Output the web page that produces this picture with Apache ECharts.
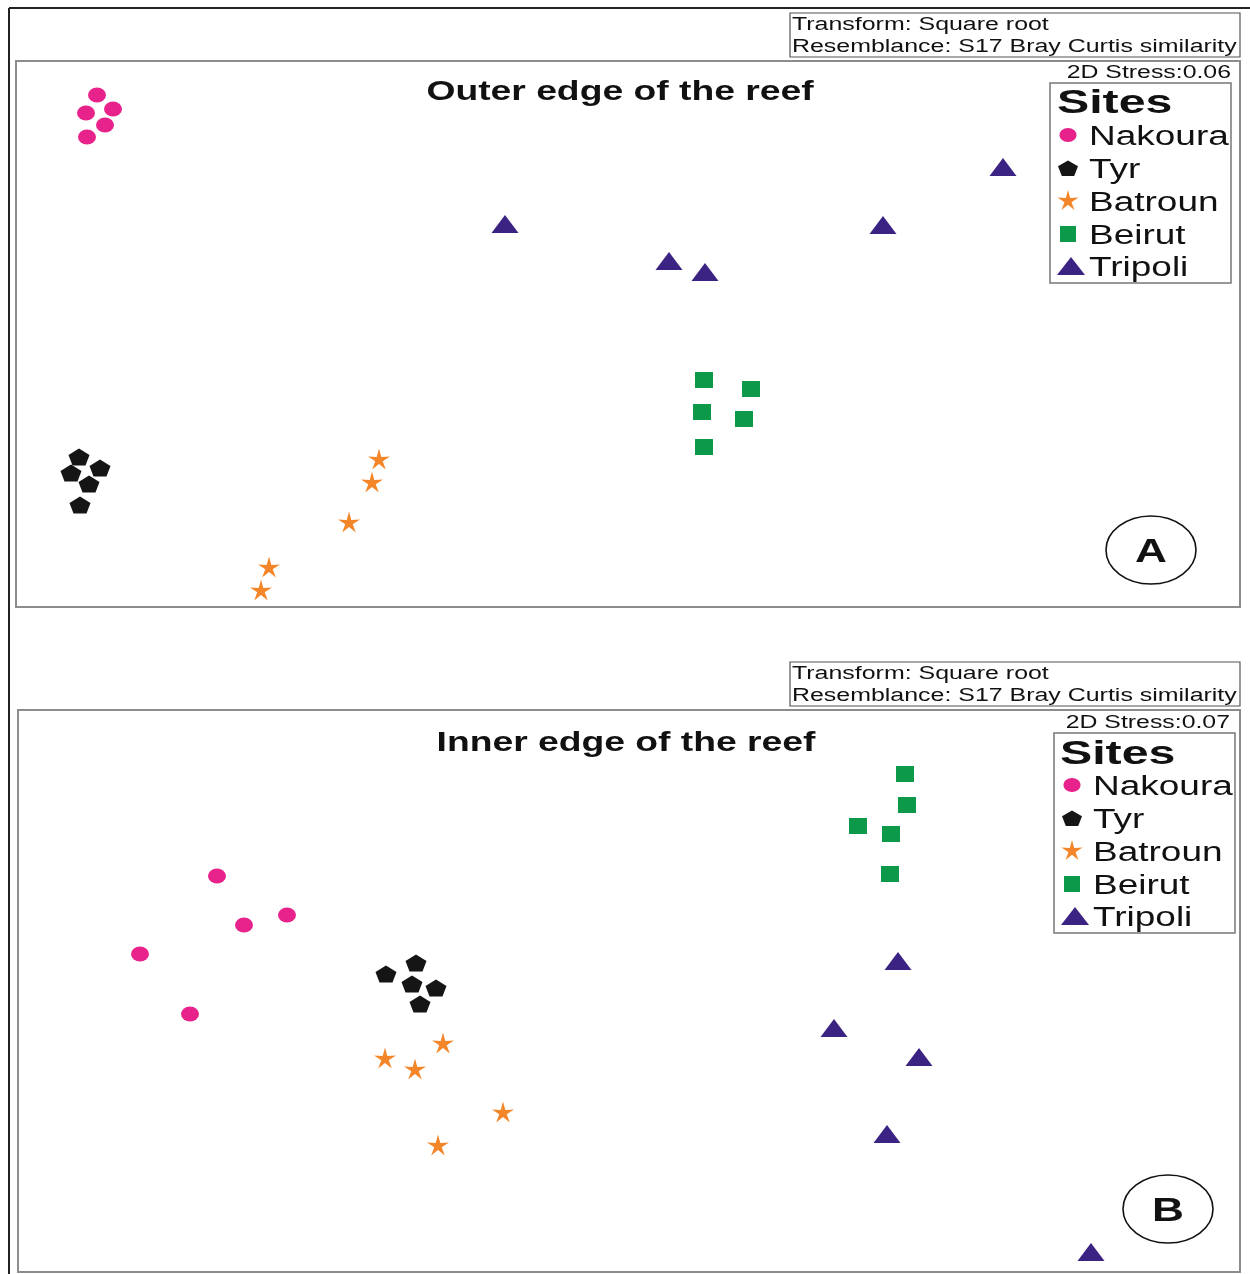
<!DOCTYPE html>
<html><head><meta charset="utf-8">
<script src="https://cdn.jsdelivr.net/npm/echarts@6/dist/echarts.min.js"></script>
<style>html,body{margin:0;padding:0;background:#fff}#c{width:1250px;height:1274px}</style>
</head><body><div id="c"></div>
<script>
// ---- data (MDS ordination coordinates, arbitrary units) ----
const sites = ['Nakoura', 'Tyr', 'Batroun', 'Beirut', 'Tripoli'];
const panelTitles = ['Outer edge of the reef', 'Inner edge of the reef'];
const stressLabels = ['2D Stress:0.06', '2D Stress:0.07'];
const headerLines = ['Transform: Square root', 'Resemblance: S17 Bray Curtis similarity'];
const panelLetters = ['A', 'B'];

const outerNakoura = [[81,512],[70,494],[97,498],[89,482],[71,470]];
const outerTyr     = [[63,150],[55,134],[84,139],[73,123],[64,102]];
const outerBatroun = [[363,148],[356,125],[333,85],[253,40],[245,17]];
const outerBeirut  = [[688,227],[735,218],[686,195],[728,188],[688,160]];
const outerTripoli = [[489,383],[653,346],[689,335],[867,382],[987,440]];

const innerNakoura = [[199,396],[226,347],[269,357],[122,318],[172,258]];
const innerTyr     = [[398,309],[368,298],[394,288],[418,284],[402,268]];
const innerBatroun = [[425,229],[367,214],[397,203],[485,160],[420,127]];
const innerBeirut  = [[887,498],[889,467],[840,446],[873,438],[872,398]];
const innerTripoli = [[880,311],[816,244],[901,215],[869,138],[1073,20]];

// ---- styles ----
const colors = ['#E8228B', '#151515', '#F4862A', '#0C9A4A', '#3B2383'];
const pentPath = 'path://M0,-10 L9.51,-3.09 L5.88,8.09 L-5.88,8.09 L-9.51,-3.09 Z';
const starPath = 'path://M0,-10 L2.0,-2.75 L9.51,-3.09 L3.24,1.05 L5.88,8.09 L0,3.4 L-5.88,8.09 L-3.24,1.05 L-9.51,-3.09 L-2.0,-2.75 Z';
const symbols = ['circle', pentPath, starPath, 'rect', 'triangle'];
const sizes = [[18,15],[21,17],[22,21],[18,16],[27,18]];

const outerData = [outerNakoura, outerTyr, outerBatroun, outerBeirut, outerTripoli];
const innerData = [innerNakoura, innerTyr, innerBatroun, innerBeirut, innerTripoli];

const grids = [
  {left: 16, top: 61, width: 1224, height: 546},
  {left: 18, top: 710, width: 1222, height: 562}
];

const SX = 1.38;
const DY = 2.5;
const FONT = 'Liberation Sans, Arial, sans-serif';

function txt(x, y, text, size, opts) {
  opts = opts || {};
  return {
    type: 'text', x: x, y: y + DY, scaleX: opts.scaleX || SX, z: 100,
    style: {
      text: text, fontSize: size, fontFamily: FONT,
      fontWeight: opts.bold ? 'bold' : 'normal',
      fill: opts.fill || '#111',
      textAlign: opts.align || 'left', textVerticalAlign: 'middle'
    }
  };
}

function polyPts(cx, cy, w, h, pts) {
  return pts.map(p => [cx + p[0] * w / 2, cy + p[1] * h / 2]);
}
const pentUnit = [[0,-1],[0.951,-0.309],[0.588,0.809],[-0.588,0.809],[-0.951,-0.309]];
const starUnit = (function(){
  const a = []; for (let i = 0; i < 10; i++) {
    const r = i % 2 === 0 ? 1 : 0.34; const ang = (-90 + i * 36) * Math.PI / 180;
    a.push([r * Math.cos(ang), r * Math.sin(ang)]);
  } return a; })();

function legendIcon(i, cx, cy) {
  const c = colors[i];
  if (i === 0) return {type: 'ellipse', shape: {cx: cx, cy: cy, rx: 8.5, ry: 7}, style: {fill: c}, z: 100};
  if (i === 1) return {type: 'polygon', shape: {points: polyPts(cx, cy + 1, 21, 17, pentUnit)}, style: {fill: c}, z: 100};
  if (i === 2) return {type: 'polygon', shape: {points: polyPts(cx, cy, 22, 22, starUnit)}, style: {fill: c}, z: 100};
  if (i === 3) return {type: 'rect', shape: {x: cx - 8, y: cy - 8, width: 16, height: 16}, style: {fill: c}, z: 100};
  return {type: 'polygon', shape: {points: [[cx - 14, cy + 9], [cx + 14, cy + 9], [cx, cy - 9]]}, style: {fill: c}, z: 100};
}

const graphic = [];
// outer frame lines
graphic.push({type: 'line', shape: {x1: 9, y1: 8, x2: 1250, y2: 8}, style: {stroke: '#222', lineWidth: 2}});
graphic.push({type: 'line', shape: {x1: 9, y1: 8, x2: 9, y2: 1274}, style: {stroke: '#222', lineWidth: 2}});

const panelCfg = [
  {hdrTop: 13, titleX: 620, titleY: 90, stressY: 71, stressX: 1231,
   leg: {x: 1050, y: 83, w: 181, h: 200}, sitesX: 1057, sitesY: 101, iconX: 1068, textX: 1089, itemY: [135,168,201,234,266],
   ell: {cx: 1151, cy: 550}},
  {hdrTop: 662, titleX: 626, titleY: 741, stressY: 721, stressX: 1230,
   leg: {x: 1054, y: 733, w: 181, h: 200}, sitesX: 1060, sitesY: 752, iconX: 1072, textX: 1093, itemY: [785,818,851,884,916],
   ell: {cx: 1168, cy: 1209}}
];

panelCfg.forEach((p, k) => {
  graphic.push({type: 'rect', shape: {x: 790, y: p.hdrTop, width: 450, height: 44}, style: {fill: '#fff', stroke: '#555', lineWidth: 1.2}, z: 90});
  graphic.push(txt(792, p.hdrTop + 10, headerLines[0], 18, {scaleX: 1.385}));
  graphic.push(txt(792, p.hdrTop + 32, headerLines[1], 18, {scaleX: 1.385}));
  graphic.push(txt(p.titleX, p.titleY, panelTitles[k], 27, {bold: true, align: 'center', scaleX: 1.38}));
  graphic.push(txt(p.stressX, p.stressY, stressLabels[k], 18, {align: 'right'}));
  graphic.push({type: 'rect', shape: {x: p.leg.x, y: p.leg.y, width: p.leg.w, height: p.leg.h}, style: {fill: '#fff', stroke: '#777', lineWidth: 1.5}, z: 90});
  graphic.push(txt(p.sitesX, p.sitesY, 'Sites', 34, {bold: true, scaleX: 1.42}));
  sites.forEach((s, i) => {
    graphic.push(legendIcon(i, p.iconX + (i === 4 ? 3 : 0), p.itemY[i]));
    graphic.push(txt(p.textX, p.itemY[i], s, 27, {scaleX: 1.37}));
  });
  graphic.push({type: 'ellipse', shape: {cx: p.ell.cx, cy: p.ell.cy, rx: 45, ry: 34}, style: {fill: 'none', stroke: '#111', lineWidth: 1.6}, z: 90});
  graphic.push(txt(p.ell.cx, p.ell.cy, panelLetters[k], 34, {bold: true, align: 'center', scaleX: 1.3}));
});

const series = [];
[outerData, innerData].forEach((set, k) => {
  set.forEach((pts, i) => {
    series.push({
      type: 'scatter', name: sites[i], xAxisIndex: k, yAxisIndex: k,
      data: pts, symbol: symbols[i], symbolSize: sizes[i],
      itemStyle: {color: colors[i], opacity: 1}, silent: true, z: 5
    });
  });
});

const chart = echarts.init(document.getElementById('c'), null, {renderer: 'canvas'});
chart.setOption({
  backgroundColor: '#fff',
  animation: false,
  grid: grids.map(g => Object.assign({show: true, borderColor: '#8c8c8c', borderWidth: 2, backgroundColor: '#fff'}, g)),
  xAxis: [
    {type: 'value', gridIndex: 0, min: 0, max: 1224, show: false},
    {type: 'value', gridIndex: 1, min: 0, max: 1222, show: false}
  ],
  yAxis: [
    {type: 'value', gridIndex: 0, min: 0, max: 546, show: false},
    {type: 'value', gridIndex: 1, min: 0, max: 562, show: false}
  ],
  series: series,
  graphic: graphic
});
</script></body></html>
